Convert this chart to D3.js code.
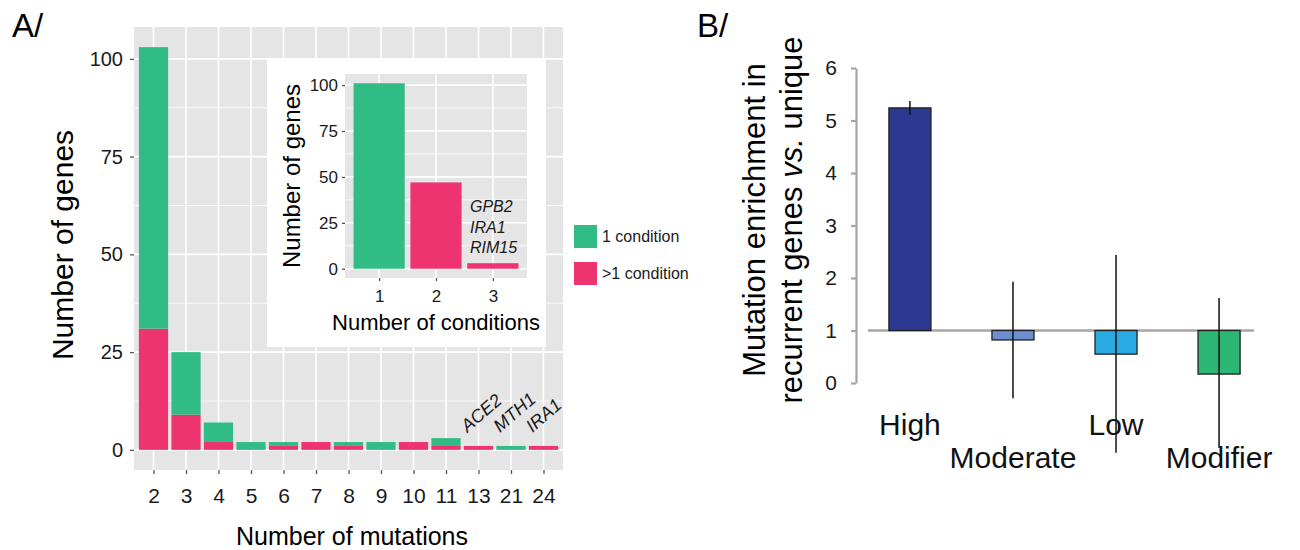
<!DOCTYPE html>
<html>
<head>
<meta charset="utf-8">
<script src="https://cdn.jsdelivr.net/npm/d3@7"></script>
<style>
  body { margin: 0; background: #fff; }
  svg { display: block; font-family: "Liberation Sans", Arial, Helvetica, sans-serif; }
</style>
</head>
<body>
<svg id="fig" width="1300" height="550"></svg>
<script>
// ---- data: panel A (number of genes by number of mutations) ----
var mutCats   = ["2", "3", "4", "5", "6", "7", "8", "9", "10", "11", "13", "21", "24"];
var oneCond   = [72, 16, 5, 2, 1, 0, 1, 2, 0, 2, 0, 1, 0];
var multiCond = [31, 9, 2, 0, 1, 2, 1, 0, 2, 1, 1, 0, 1];
var mainTicks = [0, 25, 50, 75, 100];
var mutGenes  = [["13", "ACE2"], ["21", "MTH1"], ["24", "IRA1"]];

// ---- data: inset (number of genes by number of conditions) ----
var condCats   = ["1", "2", "3"];
var condCounts = [101, 47, 3];
var condGenes  = ["GPB2", "IRA1", "RIM15"];

// ---- data: panel B (enrichment by impact) ----
var impactCats = ["High", "Moderate", "Low", "Modifier"];
var enrichment = [5.24, 0.82, 0.55, 0.17];
var errLow     = [5.11, -0.29, -1.33, -1.24];
var errHigh    = [5.37, 1.93, 2.44, 1.62];
var impactTicks = [0, 1, 2, 3, 4, 5, 6];

var GREEN = "#31bc86", PINK = "#ee3371";
var impactFill = ["#2b3990", "#6b8fd0", "#29abe2", "#2bb673"];

var svg = d3.select("#fig");
svg.append("rect").attr("width", 1300).attr("height", 550).attr("fill", "#fff");

// helper: ggplot-ish grey panel with white grid
function greyPanel(g, x, y, left, right, top, bottom, majors) {
    g.append("rect").attr("x", left).attr("y", top)
        .attr("width", right - left).attr("height", bottom - top)
        .attr("fill", "#e5e5e5");
    var minors = [];
    for (var i = 0; i < majors.length - 1; i++) minors.push((majors[i] + majors[i + 1]) / 2);
    g.selectAll(".minor").data(minors).enter().append("line")
        .attr("x1", left).attr("x2", right)
        .attr("y1", function(d) { return y(d); }).attr("y2", function(d) { return y(d); })
        .attr("stroke", "#fff").attr("stroke-width", 0.8);
    g.selectAll(".major").data(majors).enter().append("line")
        .attr("x1", left).attr("x2", right)
        .attr("y1", function(d) { return y(d); }).attr("y2", function(d) { return y(d); })
        .attr("stroke", "#fff").attr("stroke-width", 1.6);
    g.selectAll(".vmajor").data(x.domain()).enter().append("line")
        .attr("y1", top).attr("y2", bottom)
        .attr("x1", function(d) { return x(d); }).attr("x2", function(d) { return x(d); })
        .attr("stroke", "#fff").attr("stroke-width", 1.6);
}

function styleAxis(g, size) {
    g.select(".domain").remove();
    g.selectAll(".tick line").attr("stroke", "#555").attr("stroke-width", 1.3);
    g.selectAll(".tick text").attr("fill", "#1a1a1a").style("font-size", size + "px")
        .style("font-family", "Liberation Sans, Arial, sans-serif");
}

// ================= panel A =================
var aL = 134, aR = 563, aT = 27, aB = 470;
var yA = d3.scaleLinear().domain([-5.15, 108.15]).range([aB, aT]);
var xA = d3.scalePoint().domain(mutCats).range([aL, aR]).padding(0.6);
var gA = svg.append("g");
greyPanel(gA, xA, yA, aL, aR, aT, aB, mainTicks);

var rows = mutCats.map(function(c, i) {
    return { cat: c, multi: multiCond[i], one: oneCond[i] };
});
var stacked = d3.stack().keys(["multi", "one"])(rows);
var bwA = xA.step() * 0.9;
gA.selectAll(".layer").data(stacked).enter().append("g")
    .attr("fill", function(d) { return d.key === "one" ? GREEN : PINK; })
    .selectAll("rect").data(function(d) { return d; }).enter().append("rect")
    .attr("x", function(d) { return xA(d.data.cat) - bwA / 2; })
    .attr("width", bwA)
    .attr("y", function(d) { return yA(d[1]); })
    .attr("height", function(d) { return yA(d[0]) - yA(d[1]); });

gA.append("g").attr("transform", "translate(" + aL + ",0)")
    .call(d3.axisLeft(yA).tickValues(mainTicks).tickSize(4).tickPadding(7))
    .call(styleAxis, 20);
gA.append("g").attr("transform", "translate(0," + aB + ")")
    .call(d3.axisBottom(xA).tickSize(4).tickPadding(14))
    .call(styleAxis, 21);

// gene names over the rightmost bars
gA.selectAll(".gname").data(mutGenes).enter().append("text")
    .attr("transform", function(d) {
        return "translate(" + (xA(d[0]) - 11) + ",433) rotate(-41)";
    })
    .style("font-size", "18px").style("font-style", "italic").attr("fill", "#1a1a1a")
    .text(function(d) { return d[1]; });

gA.append("text").attr("transform", "translate(73," + 245 + ") rotate(-90)")
    .attr("text-anchor", "middle").style("font-size", "30px").text("Number of genes");
gA.append("text").attr("x", 352).attr("y", 545)
    .attr("text-anchor", "middle").style("font-size", "25px").text("Number of mutations");
svg.append("text").attr("x", 12).attr("y", 37).style("font-size", "33px").text("A/");

// legend
var legend = gA.append("g").attr("transform", "translate(574,225)");
[["1 condition", GREEN], [">1 condition", PINK]].forEach(function(d, i) {
    legend.append("rect").attr("x", 0).attr("y", i * 37).attr("width", 23).attr("height", 23)
        .attr("fill", d[1]);
    legend.append("text").attr("x", 28).attr("y", i * 37 + 17)
        .style("font-size", "16px").attr("fill", "#1a1a1a").text(d[0]);
});

// ================= inset =================
var gI = svg.append("g");
gI.append("rect").attr("x", 267).attr("y", 59).attr("width", 279).attr("height", 288)
    .attr("fill", "#fff");
var iL = 345, iR = 527, iT = 74, iB = 278;
var yI = d3.scaleLinear().domain([-5.05, 106.05]).range([iB, iT]);
var xI = d3.scalePoint().domain(condCats).range([iL, iR]).padding(0.6);
greyPanel(gI, xI, yI, iL, iR, iT, iB, mainTicks);
var bwI = xI.step() * 0.9;
gI.selectAll(".cbar").data(condCats).enter().append("rect")
    .attr("x", function(d) { return xI(d) - bwI / 2; })
    .attr("width", bwI)
    .attr("y", function(d, i) { return yI(condCounts[i]); })
    .attr("height", function(d, i) { return yI(0) - yI(condCounts[i]); })
    .attr("fill", function(d, i) { return i === 0 ? GREEN : PINK; });
gI.append("g").attr("transform", "translate(" + iL + ",0)")
    .call(d3.axisLeft(yI).tickValues(mainTicks).tickSize(3).tickPadding(4))
    .call(styleAxis, 17);
gI.append("g").attr("transform", "translate(0," + iB + ")")
    .call(d3.axisBottom(xI).tickSize(3).tickPadding(9))
    .call(styleAxis, 17);
gI.selectAll(".cg").data(condGenes).enter().append("text")
    .attr("x", 470).attr("y", function(d, i) { return 212 + i * 20.5; })
    .style("font-size", "16px").style("font-style", "italic").attr("fill", "#1a1a1a")
    .text(function(d) { return d; });
gI.append("text").attr("transform", "translate(300," + (iT + iB) / 2 + ") rotate(-90)")
    .attr("text-anchor", "middle").style("font-size", "24px").text("Number of genes");
gI.append("text").attr("x", (iL + iR) / 2).attr("y", 330)
    .attr("text-anchor", "middle").style("font-size", "22px").text("Number of conditions");

// ================= panel B =================
var gB = svg.append("g");
var yB = d3.scaleLinear().domain([0, 6]).range([383, 68]);
var xB = d3.scaleBand().domain(impactCats).range([858, 1271])
    .paddingInner(0.592).paddingOuter(0.3);

var axB = gB.append("g").attr("transform", "translate(856,0)")
    .call(d3.axisLeft(yB).tickValues(impactTicks).tickFormat(d3.format("d"))
        .tickSize(5).tickSizeOuter(0).tickPadding(14));
axB.select(".domain").attr("stroke", "#a6a6a6").attr("stroke-width", 2.2);
axB.selectAll(".tick line").attr("stroke", "#a6a6a6").attr("stroke-width", 2.2);
axB.selectAll(".tick text").attr("fill", "#1a1a1a").style("font-size", "21px");

gB.append("line").attr("x1", 868).attr("x2", 1254)
    .attr("y1", yB(1)).attr("y2", yB(1))
    .attr("stroke", "#a6a6a6").attr("stroke-width", 2.5);

gB.selectAll(".ibar").data(impactCats).enter().append("rect")
    .attr("x", function(d) { return xB(d); })
    .attr("width", xB.bandwidth())
    .attr("y", function(d, i) { return yB(Math.max(1, enrichment[i])); })
    .attr("height", function(d, i) { return Math.abs(yB(enrichment[i]) - yB(1)); })
    .attr("fill", function(d, i) { return impactFill[i]; })
    .attr("stroke", "#231f20").attr("stroke-width", 1.3);

gB.selectAll(".err").data(impactCats).enter().append("line")
    .attr("x1", function(d) { return xB(d) + xB.bandwidth() / 2; })
    .attr("x2", function(d) { return xB(d) + xB.bandwidth() / 2; })
    .attr("y1", function(d, i) { return yB(errLow[i]); })
    .attr("y2", function(d, i) { return yB(errHigh[i]); })
    .attr("stroke", "#111").attr("stroke-width", 1.5);

gB.selectAll(".ilab").data(impactCats).enter().append("text")
    .attr("x", function(d) { return xB(d) + xB.bandwidth() / 2; })
    .attr("y", function(d, i) { return i % 2 === 0 ? 435 : 468; })
    .attr("text-anchor", "middle").style("font-size", "30px").attr("fill", "#111")
    .text(function(d) { return d; });

gB.append("text").attr("transform", "translate(765,220) rotate(-90)")
    .attr("text-anchor", "middle").style("font-size", "31px").text("Mutation enrichment in");
var t2 = gB.append("text").attr("transform", "translate(802,220) rotate(-90)")
    .attr("text-anchor", "middle").style("font-size", "31px");
t2.append("tspan").text("recurrent genes ");
t2.append("tspan").style("font-style", "italic").text("vs.");
t2.append("tspan").text(" unique");
svg.append("text").attr("x", 697).attr("y", 37).style("font-size", "33px").text("B/");
</script>
</body>
</html>
